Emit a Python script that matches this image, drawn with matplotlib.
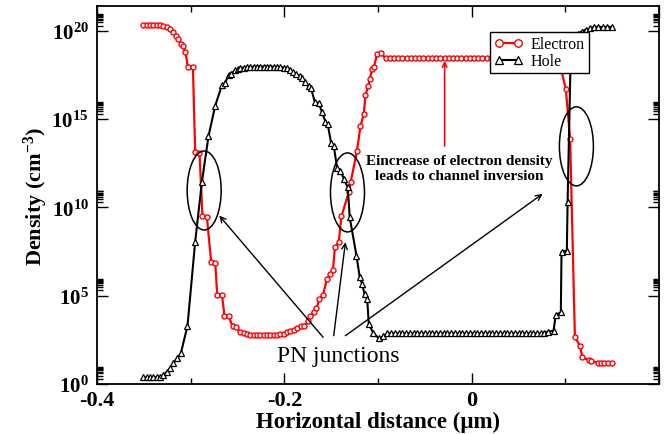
import matplotlib
matplotlib.use("Agg")
import matplotlib.pyplot as plt
import numpy as np
from matplotlib.patches import Ellipse
from matplotlib.transforms import ScaledTranslation
from matplotlib.ticker import FixedLocator, FixedFormatter

plt.rcParams['font.family'] = ['Liberation Serif', 'DejaVu Serif']
plt.rcParams['mathtext.fontset'] = 'custom'
plt.rcParams['mathtext.rm'] = 'Liberation Serif'
plt.rcParams['mathtext.bf'] = 'Liberation Serif:bold'
plt.rcParams['mathtext.it'] = 'Liberation Serif:italic'

# electron density along x (um), values as log10(cm^-3)
electron_x = [-0.3505, -0.3468, -0.3433, -0.3398, -0.3362, -0.3326, -0.3291, -0.3255, -0.3219, -0.3184,
              -0.3155, -0.3131, -0.3107, -0.3080, -0.3056, -0.3030, -0.2976, -0.2952, -0.2906, -0.2874,
              -0.2827, -0.2781, -0.2738, -0.2717, -0.2666, -0.2639, -0.2596, -0.2553, -0.2513, -0.2478,
              -0.2435, -0.2399, -0.2364, -0.2328, -0.2292, -0.2257, -0.2221, -0.2185, -0.2150, -0.2114,
              -0.2078, -0.2043, -0.2007, -0.1971, -0.1936, -0.1901, -0.1861, -0.1824, -0.1786, -0.1749,
              -0.1722, -0.1687, -0.1658, -0.1626, -0.1588, -0.1545, -0.1508, -0.1481, -0.1460, -0.1419,
              -0.1390, -0.1310, -0.1291, -0.1225, -0.1187, -0.1152, -0.1134, -0.1105, -0.1088, -0.1062,
              -0.1045, -0.1009, -0.0973,
              -0.0920, -0.0875, -0.0830, -0.0785, -0.0740, -0.0695, -0.0650, -0.0605, -0.0560, -0.0515,
              -0.0470, -0.0425, -0.0380, -0.0335, -0.0290, -0.0245, -0.0200, -0.0155, -0.0110, -0.0065,
              -0.0020, 0.0025, 0.0070, 0.0115, 0.0160, 0.0205, 0.0250, 0.0295, 0.0340, 0.0385,
              0.0430, 0.0475, 0.0520, 0.0565, 0.0610, 0.0655, 0.0700, 0.0745, 0.0790, 0.0835,
              0.0880, 0.0925,
              0.1005, 0.1051, 0.1102, 0.1158, 0.1182, 0.1251, 0.1278, 0.1344, 0.1380, 0.1415,
              0.1458, 0.1494]
electron_log = [20.35, 20.35, 20.35, 20.35, 20.35, 20.34, 20.30, 20.22, 20.08, 19.92,
                19.72, 19.52, 19.28, 19.12, 18.82, 17.96, 17.93, 13.12, 13.10, 9.50,
                9.45, 6.90, 6.88, 5.06, 5.04, 3.87, 3.85, 3.27, 3.25, 2.94,
                2.90, 2.83, 2.80, 2.78, 2.77, 2.77, 2.77, 2.77, 2.78, 2.79,
                2.80, 2.82, 2.86, 2.92, 2.98, 3.07, 3.15, 3.27, 3.30, 3.55,
                3.85, 4.10, 4.28, 4.80, 5.04, 5.95, 6.23, 6.45, 7.74, 8.06,
                9.50, 10.90, 11.45, 13.20, 14.60, 15.30, 16.36, 16.86, 17.27, 17.84,
                17.93, 18.69, 18.73,
                18.47, 18.47, 18.46, 18.46, 18.46, 18.46, 18.46, 18.46, 18.46, 18.46,
                18.46, 18.46, 18.46, 18.46, 18.46, 18.46, 18.46, 18.46, 18.46, 18.46,
                18.46, 18.46, 18.46, 18.46, 18.46, 18.46, 18.46, 18.46, 18.46, 18.46,
                18.46, 18.46, 18.46, 18.46, 18.46, 18.46, 18.46, 18.46, 18.46, 18.46,
                18.46, 18.46,
                16.72, 13.87, 2.68, 2.13, 1.51, 1.36, 1.32, 1.18, 1.17, 1.17,
                1.17, 1.17]

# hole density
hole_x = [-0.3505, -0.3468, -0.3433, -0.3398, -0.3362, -0.3326, -0.3291, -0.3255, -0.3219, -0.3184,
          -0.3141, -0.3105, -0.3034, -0.2952, -0.2880, -0.2810, -0.2738, -0.2666, -0.2636, -0.2596,
          -0.2570, -0.2524, -0.2497, -0.2471, -0.2435, -0.2399, -0.2364, -0.2328, -0.2292, -0.2257,
          -0.2221, -0.2185, -0.2150, -0.2114, -0.2078, -0.2043, -0.2007, -0.1971, -0.1943, -0.1907,
          -0.1872, -0.1836, -0.1811, -0.1775, -0.1740, -0.1714, -0.1676, -0.1633, -0.1599, -0.1561,
          -0.1537, -0.1501, -0.1473, -0.1436, -0.1401, -0.1364, -0.1323, -0.1302, -0.1230, -0.1195,
          -0.1169, -0.1144, -0.1116, -0.1098, -0.1051, -0.0991, -0.0944,
          -0.090, -0.086, -0.082, -0.078, -0.074, -0.070, -0.066, -0.062, -0.058, -0.054,
          -0.050, -0.046, -0.042, -0.038, -0.034, -0.030, -0.026, -0.022, -0.018, -0.014,
          -0.010, -0.006, -0.002, 0.002, 0.006, 0.010, 0.014, 0.018, 0.022, 0.026,
          0.030, 0.034, 0.038, 0.042, 0.046, 0.050, 0.054, 0.058, 0.062, 0.066,
          0.070, 0.074,
          0.0775, 0.0810, 0.0874, 0.0898, 0.0952, 0.0959, 0.1016, 0.1024, 0.1057, 0.1096,
          0.1134, 0.1173, 0.1219, 0.1265, 0.1308, 0.1351, 0.1398, 0.1444, 0.1494]
hole_log = [0.38, 0.38, 0.38, 0.38, 0.39, 0.42, 0.50, 0.70, 0.90, 1.19,
            1.47, 1.74, 3.30, 8.06, 11.46, 14.03, 15.76, 16.93, 17.02, 17.50,
            17.56, 17.78, 17.82, 17.88, 17.92, 17.95, 17.96, 17.97, 17.97, 17.97,
            17.97, 17.97, 17.97, 17.97, 17.96, 17.95, 17.92, 17.88, 17.78, 17.68,
            17.55, 17.42, 17.31, 17.10, 16.86, 16.74, 15.99, 15.91, 15.40, 14.85,
            14.72, 13.65, 13.50, 12.21, 12.08, 11.60, 11.14, 9.44, 7.27, 6.04,
            5.66, 5.10, 4.81, 3.40, 2.89, 2.59, 2.70,
            2.87, 2.87, 2.87, 2.87, 2.87, 2.87, 2.87, 2.87, 2.87, 2.87,
            2.87, 2.87, 2.87, 2.87, 2.87, 2.87, 2.87, 2.87, 2.87, 2.87,
            2.87, 2.87, 2.87, 2.87, 2.87, 2.87, 2.87, 2.87, 2.87, 2.87,
            2.87, 2.87, 2.87, 2.87, 2.87, 2.87, 2.87, 2.87, 2.87, 2.87,
            2.87, 2.88,
            2.90, 2.96, 3.02, 3.91, 4.06, 7.50, 7.55, 10.29, 18.60, 19.50,
            19.85, 19.96, 20.07, 20.15, 20.21, 20.22, 20.22, 20.22, 20.22]

# junction ellipses (center x, center log10 y)
ellipse_x = [-0.2856, -0.1326, 0.1118]
ellipse_log = [10.96, 10.85, 13.46]

fig = plt.figure(figsize=(6.7, 4.35), dpi=100)
ax = fig.add_axes([0.1448, 0.1149, 0.8388, 0.8683])

ax.plot(electron_x, 10.0 ** np.array(electron_log), color='red', lw=1.6, marker='o',
        ms=3.6, mfc='white', mec='red', mew=1.0, label='Electron', zorder=3)
ax.plot(hole_x, 10.0 ** np.array(hole_log), color='black', lw=1.5, marker='^',
        ms=3.8, mfc='white', mec='black', mew=0.9, label='Hole', zorder=4)

ax.set_yscale('log')
ax.set_xlim(-0.4, 0.2)
ax.set_ylim(1, 10 ** 21.39)

# ticks
ax.xaxis.set_major_locator(FixedLocator([-0.4, -0.2, 0.0, 0.2]))
ax.xaxis.set_major_formatter(FixedFormatter(['-0.4', '-0.2', '0', '']))
ax.xaxis.set_minor_locator(FixedLocator([-0.3, -0.1, 0.1]))
ax.yaxis.set_major_locator(FixedLocator([1e0, 1e5, 1e10, 1e15, 1e20]))
ax.yaxis.set_major_formatter(FixedFormatter([r'$\mathbf{10^{0}}$', r'$\mathbf{10^{5}}$',
                                             r'$\mathbf{10^{10}}$', r'$\mathbf{10^{15}}$',
                                             r'$\mathbf{10^{20}}$']))
ax.yaxis.set_minor_locator(FixedLocator([k * 10.0 ** n for n in (0, 5, 10, 15, 20) for k in range(2, 10)]))
ax.yaxis.set_minor_formatter(FixedFormatter([]))
ax.tick_params(which='both', direction='in', top=True, right=True, width=1.0)
ax.tick_params(which='major', length=8)
ax.tick_params(which='minor', length=4)
ax.tick_params(axis='x', labelsize=16, pad=4)
ax.tick_params(axis='y', labelsize=15, pad=6)
for lab in ax.get_xticklabels():
    lab.set_fontweight('bold')
for sp in ax.spines.values():
    sp.set_linewidth(1.3)

ax.set_xlabel('Horizontal distance (μm)', fontsize=16.5, fontweight='bold')
ax.set_ylabel(r'Density (cm$^{\mathbf{-3}}$)', fontsize=16, fontweight='bold')
ax.xaxis.set_label_coords(0.5, -0.07)
ax.yaxis.set_label_coords(-0.084, 0.5)

# ellipses around the junctions
for ex, ey in zip(ellipse_x, ellipse_log):
    tr = fig.dpi_scale_trans + ScaledTranslation(ex, 10 ** ey, ax.transData)
    ax.add_patch(Ellipse((0, 0), 0.34, 0.79, transform=tr, fill=False,
                         edgecolor='black', lw=1.1, zorder=5))

# PN junction arrows
arrow_kw = dict(arrowstyle='->', color='black', lw=1.0, shrinkA=0, shrinkB=0, mutation_scale=10)
ax.annotate('', xy=(-0.2695, 10 ** 9.535), xytext=(-0.1586, 10 ** 2.646), arrowprops=arrow_kw)
ax.annotate('', xy=(-0.1348, 10 ** 8.03), xytext=(-0.1473, 10 ** 2.737), arrowprops=arrow_kw)
ax.annotate('', xy=(0.0756, 10 ** 10.765), xytext=(-0.1348, 10 ** 2.737), arrowprops=arrow_kw)
ax.text(-0.1428, 10 ** 1.32, 'PN junctions', fontsize=17, ha='center', va='baseline')

# channel inversion note
ax.annotate('', xy=(-0.0289, 10 ** 18.3), xytext=(-0.0289, 10 ** 13.48),
            arrowprops=dict(arrowstyle='->', color='red', lw=1.2, shrinkA=0, shrinkB=0, mutation_scale=8))
ax.text(-0.0128, 10 ** 12.24, 'Eincrease of electron density\nleads to channel inversion',
        fontsize=11, fontweight='bold', ha='center', va='center', linespacing=1.2)

leg = ax.legend(loc='upper right', bbox_to_anchor=(0.8754, 0.931), borderaxespad=0,
                fontsize=11.5, numpoints=2, markerscale=1.5, handlelength=1.8,
                handletextpad=0.5, borderpad=0.25, labelspacing=0.05, fancybox=False)
leg.get_frame().set_edgecolor('black')
leg.get_frame().set_linewidth(1.0)
leg.get_frame().set_alpha(1.0)

fig.savefig('out.png', dpi=100)
